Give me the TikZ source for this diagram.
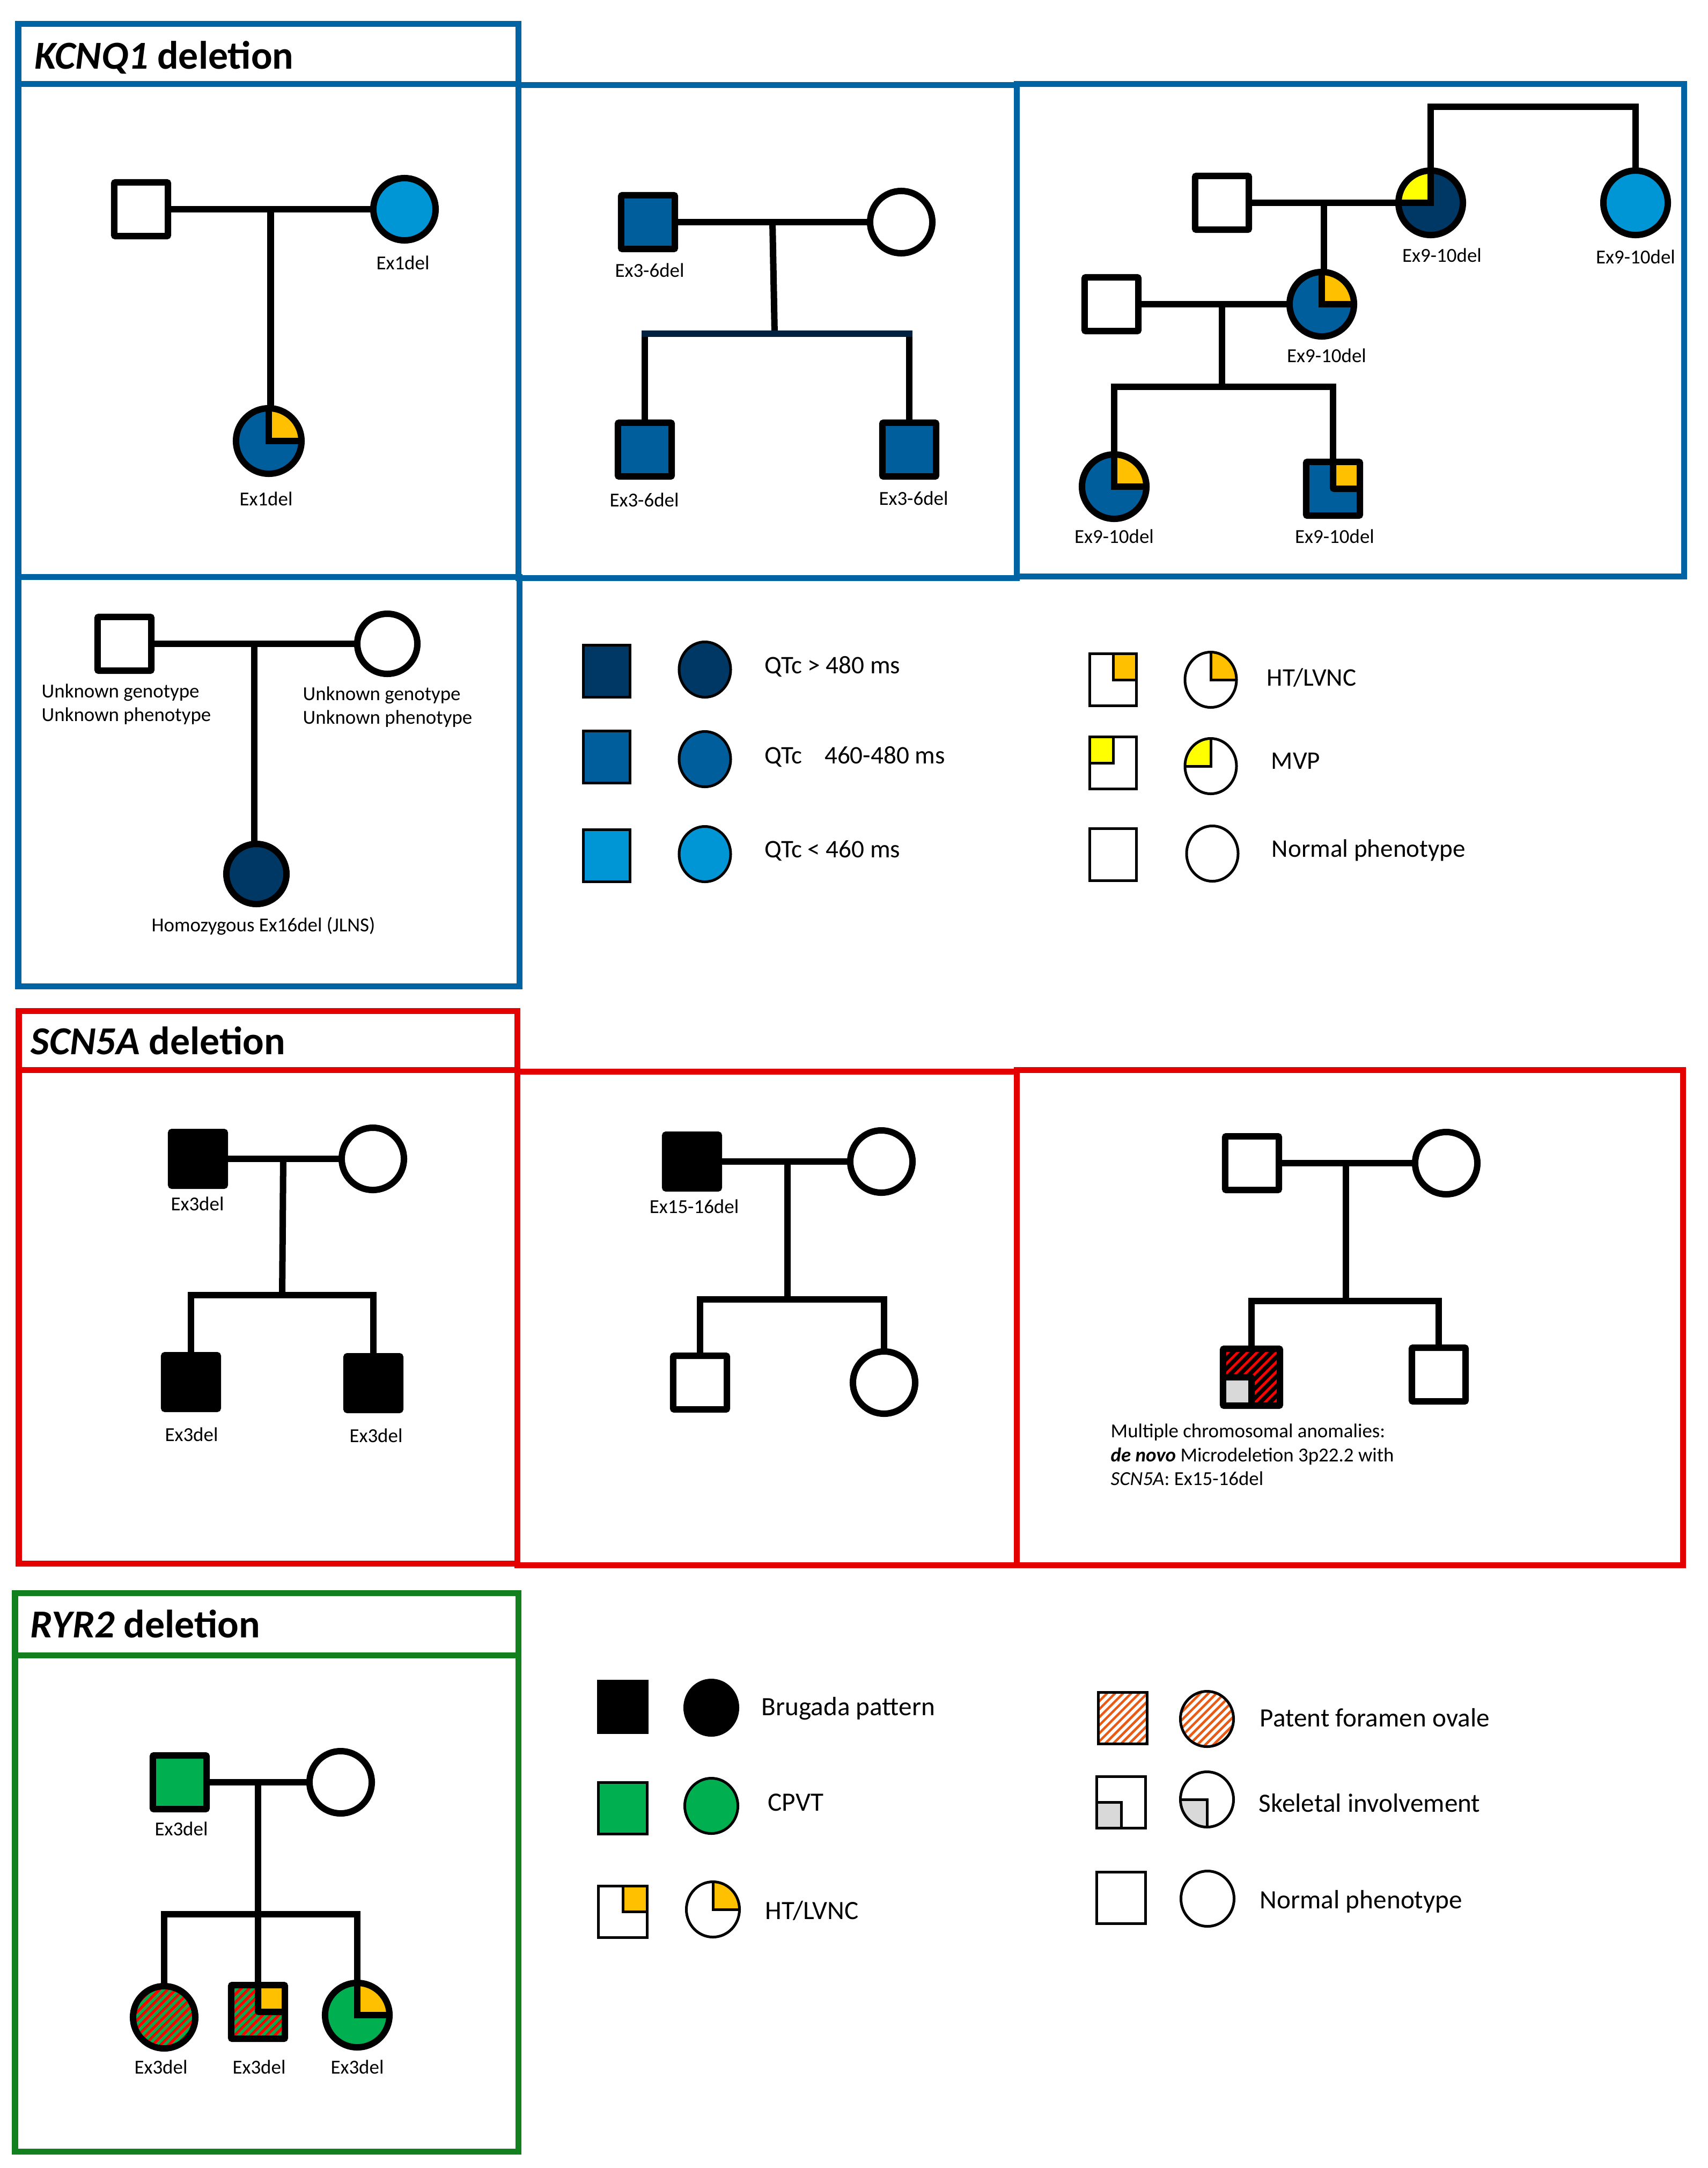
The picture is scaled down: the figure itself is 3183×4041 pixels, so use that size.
\documentclass[tikz,border=0pt]{standalone}
\usepackage{fontspec}
\setmainfont{Carlito}
\usetikzlibrary{calc,shapes.geometric}
\definecolor{cNavy}{RGB}{0,56,101}
\definecolor{mblue}{RGB}{0,94,156}
\definecolor{lblue}{RGB}{0,150,214}
\definecolor{qorange}{RGB}{255,192,0}
\definecolor{qyellow}{RGB}{255,255,0}
\definecolor{cgreen}{RGB}{0,176,80}
\definecolor{sgray}{RGB}{217,217,217}
\definecolor{hred}{RGB}{255,0,0}
\definecolor{pfo}{RGB}{235,90,20}
\definecolor{kblue}{RGB}{0,99,163}
\definecolor{sred}{RGB}{228,0,0}
\definecolor{rgreen}{RGB}{18,128,30}
\definecolor{sibnavy}{RGB}{0,32,64}
\newcommand\PPqTR[2]{\fill[#1] (path picture bounding box.center) rectangle (path picture bounding box.north east);
  \draw[line width=#2,line join=miter] (path picture bounding box.north) -- (path picture bounding box.center) -- (path picture bounding box.east);}
\newcommand\PPqTL[2]{\fill[#1] (path picture bounding box.center) rectangle (path picture bounding box.north west);
  \draw[line width=#2,line join=miter] (path picture bounding box.north) -- (path picture bounding box.center) -- (path picture bounding box.west);}
\newcommand\PPqBL[2]{\fill[#1] (path picture bounding box.center) rectangle (path picture bounding box.south west);
  \draw[line width=#2,line join=miter] (path picture bounding box.west) -- (path picture bounding box.center) -- (path picture bounding box.south);}
\newcommand\PPhatch[3]{\foreach \k in {-16,...,16}{\draw[#1,line width=#3] ($(path picture bounding box.center)+({\k*#2-1.2cm},-1.2cm)$) -- ++(2.4cm,2.4cm);}}
\tikzset{
  pl/.style={line width=0.12cm, line join=miter},
  ind/.style={draw, line width=0.12cm, inner sep=0pt, outer sep=0pt, fill=white},
  sq/.style={ind, rectangle, minimum size=1.0cm, rounded corners=0.02cm},
  ci/.style={ind, circle, minimum size=1.16cm},
  lsq/.style={draw, fill=white, line width=0.05cm, rectangle, minimum width=0.87cm, minimum height=0.96cm, inner sep=0pt},
  lci/.style={draw, fill=white, line width=0.05cm, ellipse, minimum width=0.96cm, minimum height=1.03cm, inner sep=0pt},
  lab/.style={font=\fontsize{10.5pt}{12.6pt}\selectfont, inner sep=0pt, anchor=base},
  labl/.style={font=\fontsize{10.5pt}{12.6pt}\selectfont, inner sep=0pt, anchor=base west},
  leg/.style={font=\fontsize{13.4pt}{16pt}\selectfont, inner sep=0pt, anchor=base west},
  legb/.style={font=\fontsize{14pt}{17pt}\selectfont, inner sep=0pt, anchor=base west},
  ttl/.style={font=\fontsize{21pt}{25pt}\selectfont\bfseries, inner sep=0pt, anchor=base west},
  kbox/.style={draw=kblue, line width=0.11cm},
  sbox/.style={draw=sred, line width=0.11cm},
  rbox/.style={draw=rgreen, line width=0.11cm},
}
\begin{document}
\begin{tikzpicture}[x=0.01cm, y=-0.01cm]
\useasboundingbox (0,0) rectangle (3183,4041);
\fill[white] (0,0) rectangle (3183,4041);

% ---------- panel frames ----------
\draw[kbox] (34,44) rectangle (966,156);
\draw[kbox] (34,156) rectangle (966,1075);
\draw[kbox] (966,158) rectangle (1895,1077);
\draw[kbox] (1895,156) rectangle (3139,1074);
\draw[kbox] (34,1075) rectangle (968,1838);

\draw[sbox] (35,1884) rectangle (964,1994);
\draw[sbox] (35,1994) rectangle (964,2914);
\draw[sbox] (964,1997) rectangle (1895,2917);
\draw[sbox] (1895,1994) rectangle (3137,2917);

\draw[rbox] (28,2969) rectangle (966,3085);
\draw[rbox] (28,3085) rectangle (966,4010);

% ---------- titles ----------
\node[ttl] (t1) at (64,128) {\textit{KCNQ1} deletion};
\node[ttl] (t2) at (57,1965) {\textit{SCN5A} deletion};
\node[ttl] (t3) at (56,3052) {\textit{RYR2} deletion};

% ---------- KCNQ1 pedigree A ----------
\node[sq] (a1f) at (263,390) {};
\node[ci, fill=lblue] (a1m) at (754,390) {};
\node[ci, fill=mblue, minimum size=1.22cm, path picture={\PPqTR{qorange}{0.12cm}}] (a1c) at (501,822) {};
\draw[pl] (a1f) -- (a1m);
\coordinate (a1j) at ($(a1f.east)!0.5!(a1m.west)$);
\draw[pl] (a1j) -- (a1j |- a1c.north);
\node[lab] (a1ml) at (751,502) {Ex1del};
\node[lab] (a1cl) at (496,942) {Ex1del};

% ---------- KCNQ1 pedigree B ----------
\node[sq, fill=mblue] (a2f) at (1208,414) {};
\node[ci] (a2m) at (1680,414) {};
\node[sq, fill=mblue] (a2c1) at (1202,838) {};
\node[sq, fill=mblue] (a2c2) at (1695,838) {};
\draw[pl] (a2f) -- (a2m);
\coordinate (a2j) at ($(a2f.east)!0.5!(a2m.west)$);
\coordinate (a2s) at (1444,622);
\draw[pl] (a2j) -- (a2s);
\draw[pl] (a2c1.north) -- (a2c1.north |- a2s);
\draw[pl] (a2c2.north) -- (a2c2.north |- a2s);
\draw[pl, draw=sibnavy, line cap=rect] (a2c1.north |- a2s) -- (a2c2.north |- a2s);
\node[lab] (a2fl) at (1211,516) {Ex3-6del};
\node[lab] (a2c1l) at (1201,944) {Ex3-6del};
\node[lab] (a2c2l) at (1703,941) {Ex3-6del};

% ---------- KCNQ1 pedigree C ----------
\node[sq] (a3gf) at (2278,378) {};
\node[ci, fill=cNavy, minimum size=1.2cm, path picture={\PPqTL{qyellow}{0.12cm}}] (a3gm) at (2667,378) {};
\node[ci, fill=lblue, minimum size=1.2cm] (a3ga) at (3049,378) {};
\node[sq] (a3h) at (2072,567) {};
\node[ci, fill=mblue, minimum size=1.2cm, path picture={\PPqTR{qorange}{0.12cm}}] (a3d) at (2464,567) {};
\node[ci, fill=mblue, minimum size=1.2cm, path picture={\PPqTR{qorange}{0.12cm}}] (a3c1) at (2077,907) {};
\node[sq, fill=mblue, path picture={\PPqTR{qorange}{0.12cm}}] (a3c2) at (2485,911) {};
\coordinate (a3top) at (2858,199);
\draw[pl] (a3gm.north) |- (a3top) -| (a3ga.north);
\draw[pl] (a3gf) -- (a3gm);
\coordinate (a3j1) at ($(a3gf.east)!0.5!(a3gm.west)$);
\draw[pl] (a3j1) -- (a3j1 |- a3d.north);
\draw[pl] (a3h) -- (a3d);
\coordinate (a3j2) at (2278,567);
\coordinate (a3s) at (2278,721);
\draw[pl] (a3j2) -- (a3s);
\draw[pl] (a3c1.north) |- (a3s) -| (a3c2.north);
\node[lab] (a3gml) at (2688,488) {Ex9-10del};
\node[lab] (a3gal) at (3049,491) {Ex9-10del};
\node[lab] (a3dl) at (2473,675) {Ex9-10del};
\node[lab] (a3c1l) at (2077,1012) {Ex9-10del};
\node[lab] (a3c2l) at (2488,1012) {Ex9-10del};

% ---------- KCNQ1 pedigree D ----------
\node[sq] (a4f) at (232,1200) {};
\node[ci, minimum size=1.12cm] (a4m) at (722,1200) {};
\node[ci, fill=cNavy, minimum size=1.12cm] (a4c) at (478,1629) {};
\draw[pl] (a4f) -- (a4m);
\coordinate (a4j) at ($(a4f.east)!0.5!(a4m.west)$);
\draw[pl] (a4j) -- (a4j |- a4c.north);
\node[labl] (a4fl1) at (77,1300) {Unknown genotype};
\node[labl] (a4fl2) at (77,1344) {Unknown phenotype};
\node[labl] (a4ml1) at (564,1305) {Unknown genotype};
\node[labl] (a4ml2) at (564,1349) {Unknown phenotype};
\node[lab] (a4cl) at (491,1736) {Homozygous Ex16del (JLNS)};

% ---------- KCNQ1 legend ----------
\node[lsq, fill=cNavy] (l1s1) at (1131,1251) {};
\node[lci, fill=cNavy] (l1c1) at (1314,1248) {};
\node[leg] (l1t1) at (1425,1255) {QTc > 480 ms};
\node[lsq, fill=mblue] (l1s2) at (1131,1411) {};
\node[lci, fill=mblue] (l1c2) at (1314,1415) {};
\node[leg] (l1t2) at (1425,1423) {QTc\hspace{0.42cm}460-480 ms};
\node[lsq, fill=lblue] (l1s3) at (1131,1595) {};
\node[lci, fill=lblue] (l1c3) at (1314,1592) {};
\node[leg] (l1t3) at (1425,1598) {QTc < 460 ms};
\node[lsq, path picture={\PPqTR{qorange}{0.05cm}}] (l1s4) at (2075,1267) {};
\node[lci, path picture={\PPqTR{qorange}{0.05cm}}] (l1c4) at (2257,1267) {};
\node[leg] (l1t4) at (2361,1278) {HT/LVNC};
\node[lsq, path picture={\PPqTL{qyellow}{0.05cm}}] (l1s5) at (2075,1422) {};
\node[lci, path picture={\PPqTL{qyellow}{0.05cm}}] (l1c5) at (2257,1428) {};
\node[leg] (l1t5) at (2369,1433) {MVP};
\node[lsq] (l1s6) at (2075,1593) {};
\node[lci] (l1c6) at (2260,1591) {};
\node[leg] (l1t6) at (2370,1597) {Normal phenotype};

% ---------- SCN5A pedigree A ----------
\node[sq, fill=black] (b1f) at (369,2160) {};
\node[ci] (b1m) at (695,2160) {};
\node[sq, fill=black] (b1c1) at (356,2576) {};
\node[sq, fill=black] (b1c2) at (696,2578) {};
\draw[pl] (b1f) -- (b1m);
\coordinate (b1j) at ($(b1f.east)!0.5!(b1m.west)$);
\coordinate (b1s) at (526,2414);
\draw[pl] (b1j) -- (b1s);
\draw[pl] (b1c1.north) |- (b1s) -| (b1c2.north);
\node[lab] (b1fl) at (368,2256) {Ex3del};
\node[lab] (b1c1l) at (357,2686) {Ex3del};
\node[lab] (b1c2l) at (701,2688) {Ex3del};

% ---------- SCN5A pedigree B ----------
\node[sq, fill=black] (b2f) at (1290,2165) {};
\node[ci] (b2m) at (1643,2165) {};
\node[sq] (b2c1) at (1305,2577) {};
\node[ci] (b2c2) at (1648,2577) {};
\draw[pl] (b2f) -- (b2m);
\coordinate (b2j) at (1468,2165);
\coordinate (b2s) at (1468,2422);
\draw[pl] (b2j) -- (b2s);
\draw[pl] (b2c1.north) |- (b2s) -| (b2c2.north);
\node[lab] (b2fl) at (1294,2261) {Ex15-16del};

% ---------- SCN5A pedigree C ----------
\node[sq] (b3f) at (2334,2168) {};
\node[ci] (b3m) at (2696,2168) {};
\node[sq, fill=black, minimum size=1.06cm, path picture={\PPhatch{hred}{0.18cm}{0.045cm}\PPqBL{sgray}{0.12cm}}] (b3c1) at (2333,2567) {};
\node[sq] (b3c2) at (2682,2562) {};
\draw[pl] (b3f) -- (b3m);
\coordinate (b3j) at (2509,2168);
\coordinate (b3s) at (2509,2425);
\draw[pl] (b3j) -- (b3s);
\draw[pl] (b3c1.north) |- (b3s) -| (b3c2.north);
\node[labl] (b3t1) at (2070,2679) {Multiple chromosomal anomalies:};
\node[labl] (b3t2) at (2070,2724) {\textbf{\textit{de novo}} Microdeletion 3p22.2 with};
\node[labl] (b3t3) at (2070,2768) {\textit{SCN5A}: Ex15-16del};

% ---------- RYR2 pedigree ----------
\node[sq, fill=cgreen] (c1f) at (335,3322) {};
\node[ci] (c1m) at (635,3322) {};
\node[ci, fill=cgreen, path picture={\PPhatch{hred}{0.15cm}{0.05cm}}] (c1c1) at (306,3760) {};
\node[sq, fill=cgreen, path picture={\PPhatch{hred}{0.15cm}{0.05cm}\PPqTR{qorange}{0.12cm}}] (c1c2) at (481,3750) {};
\node[ci, fill=cgreen, minimum size=1.2cm, path picture={\PPqTR{qorange}{0.12cm}}] (c1c3) at (666,3756) {};
\draw[pl] (c1f) -- (c1m);
\coordinate (c1j) at (481,3322);
\coordinate (c1s) at (481,3568);
\draw[pl] (c1j) -- (c1c2.north);
\draw[pl] (c1c1.north) |- (c1s) -| (c1c3.north);
\node[lab] (c1fl) at (338,3421) {Ex3del};
\node[lab] (c1c1l) at (300,3865) {Ex3del};
\node[lab] (c1c2l) at (483,3865) {Ex3del};
\node[lab] (c1c3l) at (666,3865) {Ex3del};

% ---------- RYR2 / SCN5A legend ----------
\tikzset{lsq/.append style={minimum width=0.9cm, minimum height=0.96cm}, lci/.append style={minimum width=0.99cm, minimum height=1.03cm}}
\node[lsq, fill=black] (l2s1) at (1161,3181) {};
\node[lci, fill=black] (l2c1) at (1326,3183) {};
\node[legb] (l2t1) at (1419,3197) {Brugada pattern};
\node[lsq, fill=cgreen] (l2s2) at (1161,3370) {};
\node[lci, fill=cgreen] (l2c2) at (1326,3366) {};
\node[legb] (l2t2) at (1431,3375) {CPVT};
\node[lsq, path picture={\PPqTR{qorange}{0.05cm}}] (l2s3) at (1161,3563) {};
\node[lci, path picture={\PPqTR{qorange}{0.05cm}}] (l2c3) at (1329,3559) {};
\node[legb] (l2t3) at (1426,3577) {HT/LVNC};
\node[lsq, path picture={\PPhatch{pfo}{0.15cm}{0.045cm}}] (l2s4) at (2093,3202) {};
\node[lci, path picture={\PPhatch{pfo}{0.15cm}{0.045cm}}] (l2c4) at (2250,3204) {};
\node[legb] (l2t4) at (2348,3218) {Patent foramen ovale};
\node[lsq, path picture={\PPqBL{sgray}{0.05cm}}] (l2s5) at (2090,3359) {};
\node[lci, path picture={\PPqBL{sgray}{0.05cm}}] (l2c5) at (2250,3354) {};
\node[legb] (l2t5) at (2346,3377) {Skeletal involvement};
\node[lsq] (l2s6) at (2090,3537) {};
\node[lci] (l2c6) at (2251,3539) {};
\node[legb] (l2t6) at (2348,3557) {Normal phenotype};
\end{tikzpicture}
\end{document}
